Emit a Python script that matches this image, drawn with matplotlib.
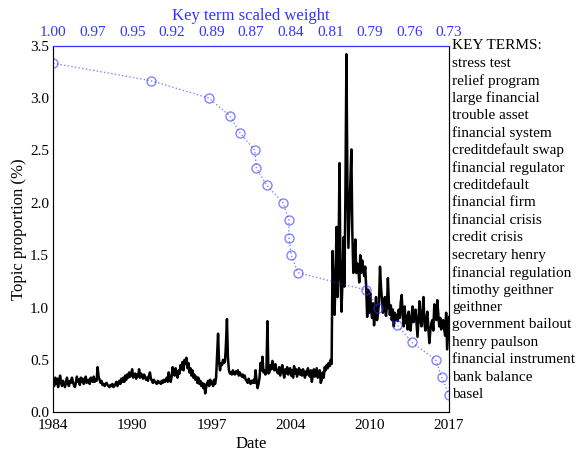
import numpy as np
import matplotlib
matplotlib.use("Agg")
from matplotlib import pyplot as plt
import matplotlib.transforms as mtransforms

plt.rcParams['font.family'] = ['Liberation Serif', 'DejaVu Serif']

# monthly topic proportion (%), Jan 1984 .. Jun 2017, one row per year
prop_by_year = [
    [0.30, 0.25, 0.33, 0.27, 0.32, 0.24, 0.30, 0.35, 0.28, 0.25, 0.30, 0.27],  # 1984
    [0.24, 0.29, 0.33, 0.27, 0.25, 0.30, 0.28, 0.33, 0.29, 0.26, 0.24, 0.28],  # 1985
    [0.34, 0.29, 0.31, 0.26, 0.33, 0.29, 0.32, 0.27, 0.30, 0.34, 0.28, 0.30],  # 1986
    [0.31, 0.27, 0.33, 0.30, 0.29, 0.34, 0.29, 0.31, 0.30, 0.43, 0.34, 0.31],  # 1987
    [0.28, 0.30, 0.26, 0.27, 0.25, 0.27, 0.28, 0.26, 0.25, 0.24, 0.26, 0.25],  # 1988
    [0.27, 0.24, 0.25, 0.27, 0.29, 0.25, 0.28, 0.30, 0.27, 0.32, 0.29, 0.33],  # 1989
    [0.29, 0.35, 0.31, 0.36, 0.33, 0.38, 0.34, 0.37, 0.41, 0.33, 0.35, 0.37],  # 1990
    [0.32, 0.36, 0.34, 0.41, 0.33, 0.37, 0.35, 0.32, 0.36, 0.34, 0.31, 0.33],  # 1991
    [0.30, 0.35, 0.38, 0.32, 0.30, 0.28, 0.31, 0.29, 0.28, 0.27, 0.30, 0.28],  # 1992
    [0.29, 0.27, 0.30, 0.28, 0.31, 0.29, 0.30, 0.33, 0.29, 0.38, 0.32, 0.29],  # 1993
    [0.34, 0.43, 0.37, 0.35, 0.42, 0.36, 0.33, 0.40, 0.37, 0.45, 0.41, 0.48],  # 1994
    [0.40, 0.50, 0.46, 0.52, 0.42, 0.47, 0.38, 0.42, 0.35, 0.40, 0.33, 0.36],  # 1995
    [0.31, 0.34, 0.28, 0.33, 0.27, 0.30, 0.25, 0.28, 0.23, 0.27, 0.18, 0.24],  # 1996
    [0.28, 0.30, 0.25, 0.31, 0.27, 0.29, 0.25, 0.31, 0.27, 0.33, 0.55, 0.75],  # 1997
    [0.48, 0.40, 0.47, 0.45, 0.50, 0.47, 0.48, 0.65, 0.89, 0.52, 0.40, 0.37],  # 1998
    [0.38, 0.36, 0.40, 0.37, 0.36, 0.39, 0.37, 0.40, 0.35, 0.38, 0.36, 0.34],  # 1999
    [0.36, 0.33, 0.35, 0.31, 0.30, 0.28, 0.32, 0.29, 0.27, 0.30, 0.28, 0.31],  # 2000
    [0.28, 0.40, 0.30, 0.23, 0.27, 0.33, 0.47, 0.40, 0.53, 0.38, 0.40, 0.36],  # 2001
    [0.40, 0.87, 0.37, 0.38, 0.45, 0.41, 0.49, 0.43, 0.40, 0.46, 0.41, 0.38],  # 2002
    [0.37, 0.43, 0.35, 0.40, 0.45, 0.38, 0.33, 0.41, 0.37, 0.43, 0.36, 0.39],  # 2003
    [0.42, 0.35, 0.40, 0.33, 0.44, 0.37, 0.41, 0.34, 0.38, 0.42, 0.36, 0.40],  # 2004
    [0.35, 0.41, 0.38, 0.33, 0.39, 0.36, 0.42, 0.37, 0.34, 0.40, 0.29, 0.36],  # 2005
    [0.41, 0.34, 0.38, 0.42, 0.33, 0.37, 0.40, 0.28, 0.31, 0.38, 0.33, 0.43],  # 2006
    [0.40, 0.45, 0.42, 0.47, 0.44, 0.50, 0.46, 1.54, 1.20, 0.93, 1.30, 1.77],  # 2007
    [1.10, 1.45, 2.38, 1.30, 0.96, 1.25, 1.67, 1.20, 2.10, 3.42, 2.20, 1.57],  # 2008
    [1.90, 2.20, 2.51, 1.71, 1.33, 1.45, 1.65, 1.33, 1.42, 1.39, 1.24, 1.50],  # 2009
    [1.33, 1.45, 1.38, 1.30, 1.39, 1.20, 0.91, 1.17, 0.95, 1.14, 0.98, 0.90],  # 2010
    [1.04, 0.83, 0.98, 1.10, 0.88, 0.95, 1.05, 1.39, 1.20, 1.07, 0.95, 1.03],  # 2011
    [1.10, 0.92, 1.00, 1.28, 1.05, 0.93, 1.02, 0.88, 0.98, 0.82, 0.95, 0.88],  # 2012
    [0.93, 0.87, 0.98, 0.90, 1.05, 1.12, 0.92, 0.82, 1.01, 0.85, 0.92, 0.79],  # 2013
    [0.96, 0.85, 0.78, 0.92, 1.01, 0.86, 0.90, 0.98, 0.85, 0.72, 0.90, 1.06],  # 2014
    [0.88, 0.82, 0.95, 1.10, 0.85, 0.78, 0.90, 0.96, 0.80, 0.66, 0.78, 0.85],  # 2015
    [0.88, 0.78, 1.03, 0.92, 0.88, 1.07, 0.95, 0.82, 0.90, 0.79, 0.85, 0.88],  # 2016
    [0.80, 0.73, 0.95, 0.60, 0.75, 0.91],                                      # 2017
]
start_year = 1984

key_terms = ["stress test", "relief program", "large financial", "trouble asset",
             "financial system", "creditdefault swap", "financial regulator",
             "creditdefault", "financial firm", "financial crisis", "credit crisis",
             "secretary henry", "financial regulation", "timothy geithner",
             "geithner", "government bailout", "henry paulson",
             "financial instrument", "bank balance", "basel"]
term_weights = [1.000, 0.934, 0.895, 0.881, 0.874, 0.864, 0.863, 0.856, 0.845, 0.841,
                0.841, 0.8395, 0.835, 0.789, 0.781, 0.768, 0.758, 0.742, 0.738, 0.733]

prop = np.concatenate([np.array(r) for r in prop_by_year])
dates = start_year + np.arange(len(prop)) / 12.0

fig = plt.figure(figsize=(5.78, 4.58), dpi=100)
ax = fig.add_axes([0.092, 0.100, 0.685, 0.800])

ax.plot(dates, prop, color='black', lw=1.8)
ax.set_xlim(dates[0], dates[-1])
ax.set_ylim(0, 3.5)
xt = np.linspace(dates[0], dates[-1], 6)
ax.set_xticks(xt)
ax.set_xticklabels([str(int(t)) for t in xt])
ax.set_yticks(np.arange(0, 3.51, 0.5))
ax.set_yticklabels(['%.1f' % v for v in np.arange(0, 3.51, 0.5)])
ax.tick_params(axis='x', length=0, labelsize=11, pad=5)
ax.tick_params(axis='y', length=0, labelsize=11, pad=3)
ax.set_xlabel('Date', fontsize=12, labelpad=3)
ax.set_ylabel('Topic proportion (%)', fontsize=12, labelpad=2)
for s in ['left', 'bottom', 'right']:
    ax.spines[s].set_color('#555555')

# key terms on the top (weight) axis
n = len(key_terms)
term_y = 3.5 * (n - np.arange(n)) / (n + 1)
ax2 = ax.twiny()
ax2.set_xlim(term_weights[0], min(term_weights))
wt = np.linspace(term_weights[0], min(term_weights), 11)
ax2.set_xticks(wt)
ax2.set_xticklabels(['%.2f' % w for w in wt])
ax2.tick_params(length=0, labelsize=11, labelcolor='#3333ff', pad=5)
ax2.spines['top'].set_color('#3333ff')
ax2.set_xlabel('Key term scaled weight', fontsize=12, color='#3333ff', labelpad=4)
ax2.plot(term_weights, term_y, ls=':', color='#3333ff', alpha=0.6, lw=1.0,
         marker='o', ms=6.5, mfc='none', mec='#3333ff', mew=1.0)

trans = mtransforms.blended_transform_factory(ax.transAxes, ax.transData)
ax.text(1.008, 3.5, 'KEY TERMS:', transform=trans, fontsize=11, va='center', ha='left', clip_on=False)
for t, y in zip(key_terms, term_y):
    ax.text(1.008, y, t, transform=trans, fontsize=11, va='center', ha='left', clip_on=False)

fig.savefig('out.png', dpi=100)
